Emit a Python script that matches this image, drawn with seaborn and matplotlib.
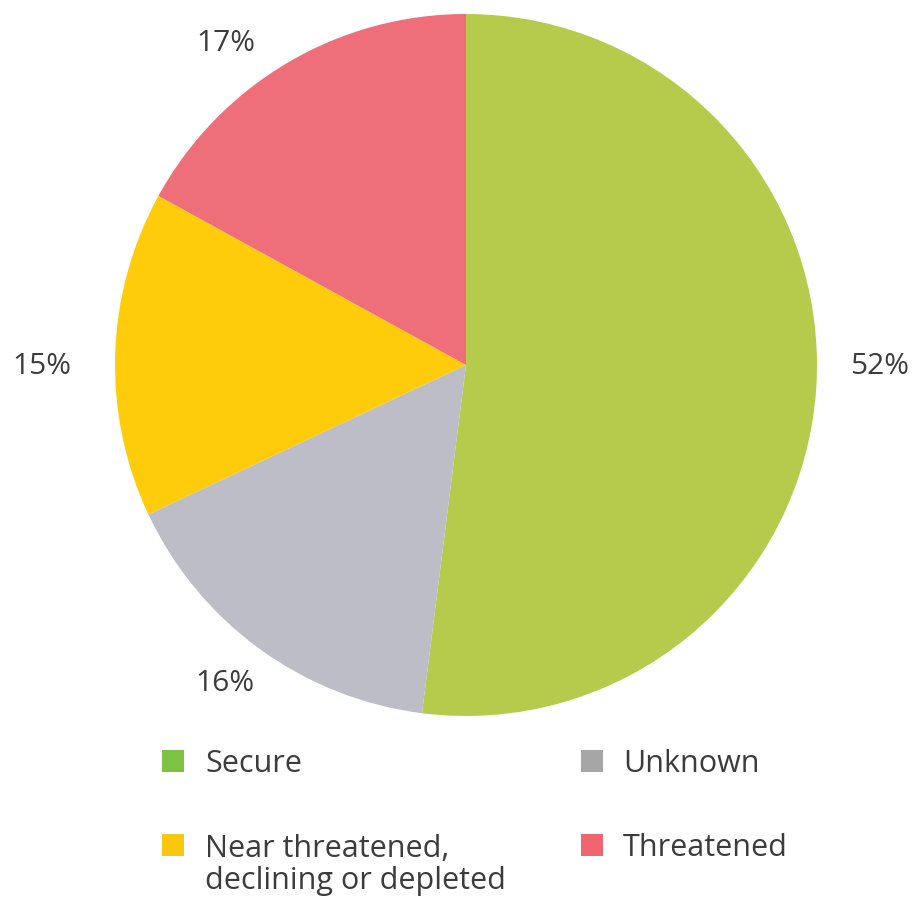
import matplotlib
matplotlib.use("Agg")
import matplotlib.pyplot as plt
import numpy as np
import seaborn as sns
from matplotlib.patches import Rectangle

# Conservation status shares (per cent)
categories = ["Secure", "Unknown", "Near threatened,\ndeclining or depleted", "Threatened"]
shares = [52, 16, 15, 17]
slice_colors = ["#B6CB4B", "#BDBDC8", "#FECC0A", "#EE6F7A"]
legend_colors = ["#7EC242", "#A6A6A6", "#F9C80E", "#EF6670"]

sns.set_theme(style="white")
plt.rcParams["font.family"] = ["Open Sans", "DejaVu Sans"]
TEXT = "#3C3C3C"
FS_LABEL = 21.5
FS_LEGEND = 22

W, H = 917, 900
fig = plt.figure(figsize=(W / 100, H / 100), dpi=100)
fig.patch.set_facecolor("white")

# pie centred at (466, 365) px with radius 351 px
cx, cy, r = 466, 365, 351
ax = fig.add_axes([(cx - r) / W, (H - cy - r) / H, 2 * r / W, 2 * r / H])
wedges, _ = ax.pie(shares, colors=slice_colors, startangle=90, counterclock=False,
                   radius=1, wedgeprops=dict(linewidth=0, edgecolor="none"))
ax.set_xlim(-1, 1)
ax.set_ylim(-1, 1)
ax.set_aspect("equal")
ax.axis("off")

# percentage labels around the rim, placed from each wedge's mid angle
label_radius = 1.17
nudges = [(0.01, 0.07), (0.0, 0.04), (-0.04, -0.04), (-0.09, -0.09)]
for w, v, (dx, dy) in zip(wedges, shares, nudges):
    mid = np.deg2rad((w.theta1 + w.theta2) / 2)
    x = label_radius * np.cos(mid) + dx
    y = label_radius * np.sin(mid) + dy
    ax.text(x, y, f"{v}%", ha="center", va="center", fontsize=FS_LABEL,
            color=TEXT, clip_on=False)

# legend: two columns, two rows
col_box_x = [162, 581]
col_text_x = [205, 623]
row_box_top = [750, 834]
row_baseline = [772, 856]
line_step = 33
box = 22
for i, (name, col) in enumerate(zip(categories, legend_colors)):
    c, rw = i % 2, i // 2
    fig.add_artist(Rectangle((col_box_x[c] / W, (H - row_box_top[rw] - box) / H),
                             box / W, box / H, transform=fig.transFigure,
                             facecolor=col, edgecolor="none"))
    # multi-line text aligns on its last baseline
    last_baseline = row_baseline[rw] + line_step * name.count("\n")
    fig.text(col_text_x[c] / W, (H - last_baseline) / H, name,
             ha="left", va="baseline", fontsize=FS_LEGEND, color=TEXT,
             linespacing=1.08)

fig.savefig("out.png", dpi=100, facecolor="white")
